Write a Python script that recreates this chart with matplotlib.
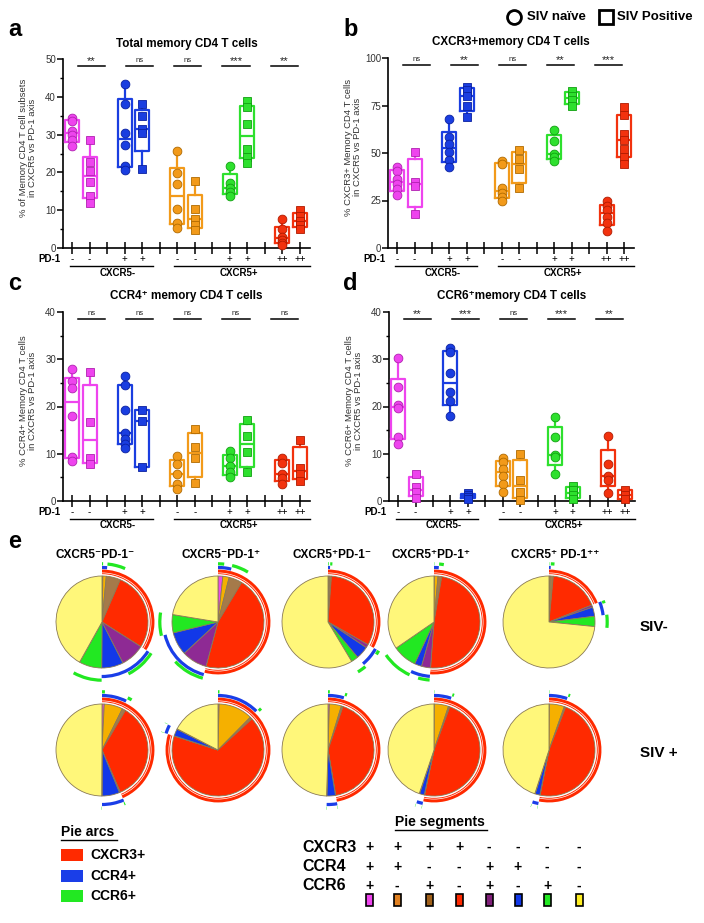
import numpy as np
import matplotlib
matplotlib.use("Agg")
import matplotlib.pyplot as plt
from matplotlib.patches import Wedge, Rectangle
from matplotlib.lines import Line2D

plt.rcParams['font.family'] = ['Liberation Sans', 'DejaVu Sans']

W, H = 704, 923
fig = plt.figure(figsize=(W / 100, H / 100), dpi=100)

# ---------------- data ----------------
group_colors = ['#ee44ee', '#1a3ee0', '#f29a1a', '#2ee02e', '#f2320e']
group_edges = ['#b020b0', '#0a20a0', '#b06a00', '#10a010', '#b01a00']
pd1_signs = ['-', '-', '+', '+', '-', '-', '+', '+', '++', '++']

total_naive = [[34.5, 33.5, 31, 30, 28.5, 27], [43.5, 38, 30.5, 27.3, 21.8, 20.7],
               [25.7, 19.8, 17, 10.4, 6.7, 5.2], [21.6, 17.3, 16, 14.8, 13.8],
               [7.6, 5, 3, 2.2, 1.4, 0.8]]
total_pos = [[28.5, 22.7, 20.5, 17.5, 13.8, 11.8], [38, 35, 31.5, 30.5, 21],
             [17.8, 10.2, 7.6, 6, 4.8], [38.8, 37.3, 32.8, 26.3, 24.2, 22.4],
             [10, 8.5, 7.2, 6, 5]]
total_sig = ['**', 'ns', 'ns', '***', '**']

cxcr3_naive = [[42.5, 40.5, 36.5, 33.5, 31, 28], [68, 58.5, 55, 50.5, 46.5, 42.5],
               [46, 44, 31.5, 29, 27, 25], [62, 56.5, 49.5, 48, 46],
               [25, 22, 20, 16.5, 13, 9]]
cxcr3_pos = [[50.5, 35, 32.5, 18], [85, 83, 80, 75, 69], [51.5, 47, 41.5, 31.5],
             [82.5, 80, 78, 75], [74, 70, 60, 57, 52, 48, 44]]
cxcr3_sig = ['ns', '**', 'ns', '**', '***']

ccr4_naive = [[28, 25.5, 24, 18, 9.3, 8.5], [26.5, 24.5, 19.3, 14.3, 13.2, 12, 11.2],
              [9.5, 7.8, 5.8, 3.6, 2.6], [10.5, 9, 7.5, 6.2, 5], [9.2, 8, 5.8, 4.8, 3.6]]
ccr4_pos = [[27.3, 16.7, 9, 7.8], [19.2, 17, 7.3], [15.3, 11.4, 9, 3.8],
            [17.2, 13.8, 10.3, 6.2], [13, 7, 5.8, 4.2]]
ccr4_sig = ['ns', 'ns', 'ns', 'ns', 'ns']

ccr6_naive = [[30.3, 24.2, 20.3, 19.7, 13.5, 12], [32.3, 31.5, 27, 23.1, 21.2, 18],
              [9.2, 8.2, 6.8, 5.3, 3.5, 2], [17.8, 13.5, 9.8, 9.3, 5.8],
              [13.8, 7.9, 5.3, 4.5, 1.7]]
ccr6_pos = [[5.7, 2.9, 1.9, 0.7], [1.7, 1.2, 0.9, 0.5], [10, 4.4, 1.8, 0.2],
            [3.2, 2.3, 1.2, 0.4], [2.3, 1.2, 0.5]]
ccr6_sig = ['**', '***', 'ns', '***', '**']

# pie segments (%): +++, ++-, +-+, +--, -++, -+-, --+, ---
seg_colors = ['#e84be8', '#f5b000', '#a57a4a', '#ff2a00', '#8e2a94', '#1238e8', '#22e822', '#fff77a']
seg_legend_colors = ['#ee44ee', '#e08020', '#a0601a', '#ff2a00', '#80207a', '#1238e8', '#22e822', '#ffee22']
pie_titles = ['CXCR5\u207bPD-1\u207b', 'CXCR5\u207bPD-1\u207a', 'CXCR5\u207aPD-1\u207b',
              'CXCR5\u207aPD-1\u207a', 'CXCR5\u207a PD-1\u207a\u207a']
pie_siv_neg = [[0.3, 1.2, 5, 27.5, 8.5, 7.6, 8, 41.9],
               [1.7, 2.2, 4.7, 45.6, 8.9, 8.1, 6.4, 22.4],
               [0.2, 0.4, 0.6, 32, 1.2, 4.5, 2.5, 58.6],
               [0.1, 1.3, 1.3, 48.5, 3.2, 2.5, 8.5, 34.6],
               [0.1, 0.4, 1, 17.5, 0.8, 3.2, 3.6, 73.4]]
pie_siv_pos = [[0.8, 6.5, 1.2, 35, 0.3, 6.2, 0.1, 49.9],
               [0.4, 12, 0.8, 66.7, 0.1, 2.5, 0.1, 17.4],
               [0.5, 4.2, 0.6, 42, 0.1, 3, 0.1, 49.5],
               [0.1, 5, 0.5, 47.7, 0.1, 1.7, 0.1, 44.8],
               [0.1, 5.3, 0.5, 47.2, 0.1, 1.7, 0.1, 45]]
arc_markers = ['CXCR3+', 'CCR4+', 'CCR6+']
arc_colors = ['#ff2a00', '#1a3ee8', '#22e822']
arc_membership = [[1, 1, 1, 1, 0, 0, 0, 0],
                  [1, 1, 0, 0, 1, 1, 0, 0],
                  [1, 0, 1, 0, 1, 0, 1, 0]]
legend_rows = ['CXCR3', 'CCR4', 'CCR6']
legend_signs = [['+', '+', '+', '+', '-', '-', '-', '-'],
                ['+', '+', '-', '-', '+', '+', '-', '-'],
                ['+', '-', '+', '-', '+', '-', '+', '-']]

# ---------------- overlay (pixel coords) ----------------
ov = fig.add_axes([0, 0, 1, 1], zorder=10)
ov.set_xlim(0, W)
ov.set_ylim(H, 0)
ov.axis('off')


def wstats(vals):
    v = np.asarray(vals, float)
    q1, med, q3 = np.percentile(v, [25, 50, 75], method='weibull')
    return dict(med=med, q1=q1, q3=q3, whislo=v.min(), whishi=v.max(), fliers=[])


def panel(rect, naive, pos, sig, ylim, yticks, yminor, ylabel, title):
    l, t, r, b = rect
    ax = fig.add_axes([l / W, 1 - b / H, (r - l) / W, (b - t) / H])
    for i in range(5):
        c = group_colors[i]
        for j, (vals, mk) in enumerate([(naive[i], 'o'), (pos[i], 's')]):
            x = 3 * i + j
            ax.bxp([wstats(vals)], positions=[x], widths=0.8, showcaps=False,
                   showfliers=False,
                   boxprops=dict(color=c, lw=1.6),
                   whiskerprops=dict(color=c, lw=1.6),
                   medianprops=dict(color=c, lw=1.6), zorder=3)
            ax.plot([x] * len(vals), vals, ls='none', marker=mk, ms=6.3,
                    mfc=c, mec=group_edges[i], mew=0.6, zorder=4, clip_on=False)
    ax.set_xlim(-0.52, 13.57)
    ax.set_ylim(*ylim)
    ax.set_yticks(yticks)
    ax.set_yticks(yminor, minor=True)
    ax.set_xticks(range(14))
    ax.tick_params(axis='x', direction='inout', length=8, width=1.1, labelbottom=False)
    ax.tick_params(axis='y', direction='out', length=4, width=1.1, labelsize=7,
                   pad=1, labelcolor='#333333')
    ax.tick_params(axis='y', which='minor', direction='out', length=2, width=1)
    for s in ['top', 'right']:
        ax.spines[s].set_visible(False)
    for s in ['left', 'bottom']:
        ax.spines[s].set_linewidth(1.2)
    ax.set_ylabel(ylabel, fontsize=6.8, color='#333333', linespacing=1.05)
    ax.yaxis.set_label_coords(-0.105, 0.53)
    ax.set_title(title, fontsize=8.4, fontweight='bold', pad=9)
    # significance
    for i, s in enumerate(sig):
        cx = 1.1 + 2.75 * i
        ax.plot([cx - 0.78, cx + 0.78], [0.965, 0.965], color='black', lw=1.1,
                transform=ax.get_xaxis_transform(), clip_on=False)
        ax.annotate(s, xy=(cx, 0.965), xycoords=('data', 'axes fraction'),
                    xytext=(0, 0 if s != 'ns' else 1.5), textcoords='offset pixels',
                    ha='center', va='bottom',
                    fontsize=8 if s != 'ns' else 5.5, color='#222222')
    # PD-1 row
    ax.annotate('PD-1', xy=(-0.012, 0), xycoords='axes fraction', xytext=(0, -11),
                textcoords='offset pixels', ha='right', va='center', fontsize=7,
                fontweight='bold')
    for k, x in enumerate([0, 1, 3, 4, 6, 7, 9, 10, 12, 13]):
        ax.annotate(pd1_signs[k], xy=(x, 0), xycoords=('data', 'axes fraction'),
                    xytext=(0, -11), textcoords='offset pixels', ha='center',
                    va='center', fontsize=7)
    for (x0, x1, xm, lab) in [(-0.1, 4.6, 2.6, 'CXCR5-'), (5.8, 13.55, 9.5, 'CXCR5+')]:
        ln = Line2D([x0, x1], [0, 0], color='black', lw=1.0, clip_on=False)
        ln.set_transform(ax.get_xaxis_transform() +
                         matplotlib.transforms.ScaledTranslation(0, -17.5 / 100, fig.dpi_scale_trans))
        ax.add_line(ln)
        ax.annotate(lab, xy=(xm, 0), xycoords=('data', 'axes fraction'),
                    xytext=(0, -24.5), textcoords='offset pixels', ha='center',
                    va='center', fontsize=7, fontweight='bold')
    return ax


panel((63, 59, 310, 248), total_naive, total_pos, total_sig, (0, 50),
      range(0, 51, 10), range(5, 50, 10),
      '% of Memory CD4 T cell subsets\nin CXCR5 vs PD-1 axis', 'Total memory CD4 T cells')
panel((388, 58, 634, 248), cxcr3_naive, cxcr3_pos, cxcr3_sig, (0, 100),
      range(0, 101, 25), [],
      '% CXCR3+ Memory CD4 T cells\nin CXCR5 vs PD-1 axis', 'CXCR3+memory CD4 T cells')
panel((63, 312, 310, 501), ccr4_naive, ccr4_pos, ccr4_sig, (0, 40),
      range(0, 41, 10), range(5, 40, 10),
      '% CCR4+ Memory CD4 T cells\nin CXCR5 vs PD-1 axis', 'CCR4\u207a memory CD4 T cells')
panel((389, 312, 635, 501), ccr6_naive, ccr6_pos, ccr6_sig, (0, 40),
      range(0, 41, 10), range(5, 40, 10),
      '% CCR6+ Memory CD4 T cells\nin CXCR5 vs PD-1 axis', 'CCR6\u207amemory CD4 T cells')

# panel letters
for let, (x, y) in zip('abcde', [(8, 30), (343, 30), (8, 284), (343, 284), (8, 541)]):
    ov.text(x, y, let, fontsize=17, fontweight='bold', ha='left', va='center')

# top legend
ov.plot([514], [17], marker='o', ms=10, mfc='white', mec='black', mew=2)
ov.text(527, 17, 'SIV na\u00efve', fontsize=9.5, fontweight='bold', va='center')
ov.plot([606], [17], marker='s', ms=9.5, mfc='white', mec='black', mew=2)
ov.text(617, 17, 'SIV Positive', fontsize=9.5, fontweight='bold', va='center')

# ---------------- pies ----------------
col_x = [102, 218, 328, 434, 549]
row_y = [622, 750]
R_PX = 46
S = R_PX * 1.35


def draw_pie(cx, cy, fr):
    ax = fig.add_axes([(cx - S) / W, 1 - (cy + S) / H, 2 * S / W, 2 * S / H])
    ax.pie(fr, colors=seg_colors, startangle=90, counterclock=False, radius=1,
           wedgeprops=dict(edgecolor='#8a7a55', linewidth=0.6))
    ax.set_xlim(-1.35, 1.35)
    ax.set_ylim(-1.35, 1.35)
    ax.set_aspect('equal')
    ax.axis('off')
    frac = np.asarray(fr, float) / np.sum(fr)
    cum = np.concatenate([[0], np.cumsum(frac)])
    radii = [(1.04, 1.14), (1.15, 1.22), (1.23, 1.30)]
    for m in range(3):
        mem = arc_membership[m]
        k = 0
        while k < 8:
            if mem[k] and frac[k] > 0:
                k0 = k
                while k + 1 < 8 and mem[k + 1]:
                    k += 1
                a0, a1 = cum[k0], cum[k + 1]
                r_in, r_out = radii[m]
                ax.add_patch(Wedge((0, 0), r_out, 90 - 360 * a1, 90 - 360 * a0,
                                   width=r_out - r_in, facecolor=arc_colors[m],
                                   edgecolor='none'))
            k += 1
    # thin white line inside the CXCR3 ring
    ax.add_patch(Wedge((0, 0), 1.075, 0, 360, width=0.015, facecolor='white',
                       edgecolor='none'))


for ci in range(5):
    draw_pie(col_x[ci], row_y[0], pie_siv_neg[ci])
    draw_pie(col_x[ci], row_y[1], pie_siv_pos[ci])

for ci, (x, t) in enumerate(zip([95, 221, 332, 431, 555], pie_titles)):
    ov.text(x, 555, t, fontsize=8.5, fontweight='bold', ha='center', va='center')
ov.text(640, 627, 'SIV-', fontsize=11, fontweight='bold', ha='left', va='center')
ov.text(640, 753, 'SIV +', fontsize=11, fontweight='bold', ha='left', va='center')

# ---------------- bottom legends ----------------
ov.text(61, 832, 'Pie arcs', fontsize=10, fontweight='bold', ha='left', va='center')
ov.plot([61, 117], [840, 840], color='black', lw=1)
for k, (lab, c) in enumerate(zip(arc_markers, arc_colors)):
    y = 855 + 20.5 * k
    ov.add_patch(Rectangle((61, y - 6), 22, 12, facecolor=c, edgecolor='none'))
    ov.text(90, y, lab, fontsize=10, fontweight='bold', ha='left', va='center')

ov.text(440, 822, 'Pie segments', fontsize=10, fontweight='bold', ha='center', va='center')
ov.plot([395, 487], [830, 830], color='black', lw=1)
leg_x = [369, 397, 429, 459, 489, 518, 547, 579]
for r, (lab, signs) in enumerate(zip(legend_rows, legend_signs)):
    y = 847 + 19.5 * r
    ov.text(302, y, lab, fontsize=11.5, fontweight='bold', ha='left', va='center')
    for x, s in zip(leg_x, signs):
        ov.text(x, y, s, fontsize=10, fontweight='bold', ha='center', va='center')
for x, c in zip(leg_x, seg_legend_colors):
    ov.add_patch(Rectangle((x - 3.5, 894), 7, 12, facecolor=c, edgecolor='black', lw=1.2))

fig.savefig('out.png', dpi=100)
